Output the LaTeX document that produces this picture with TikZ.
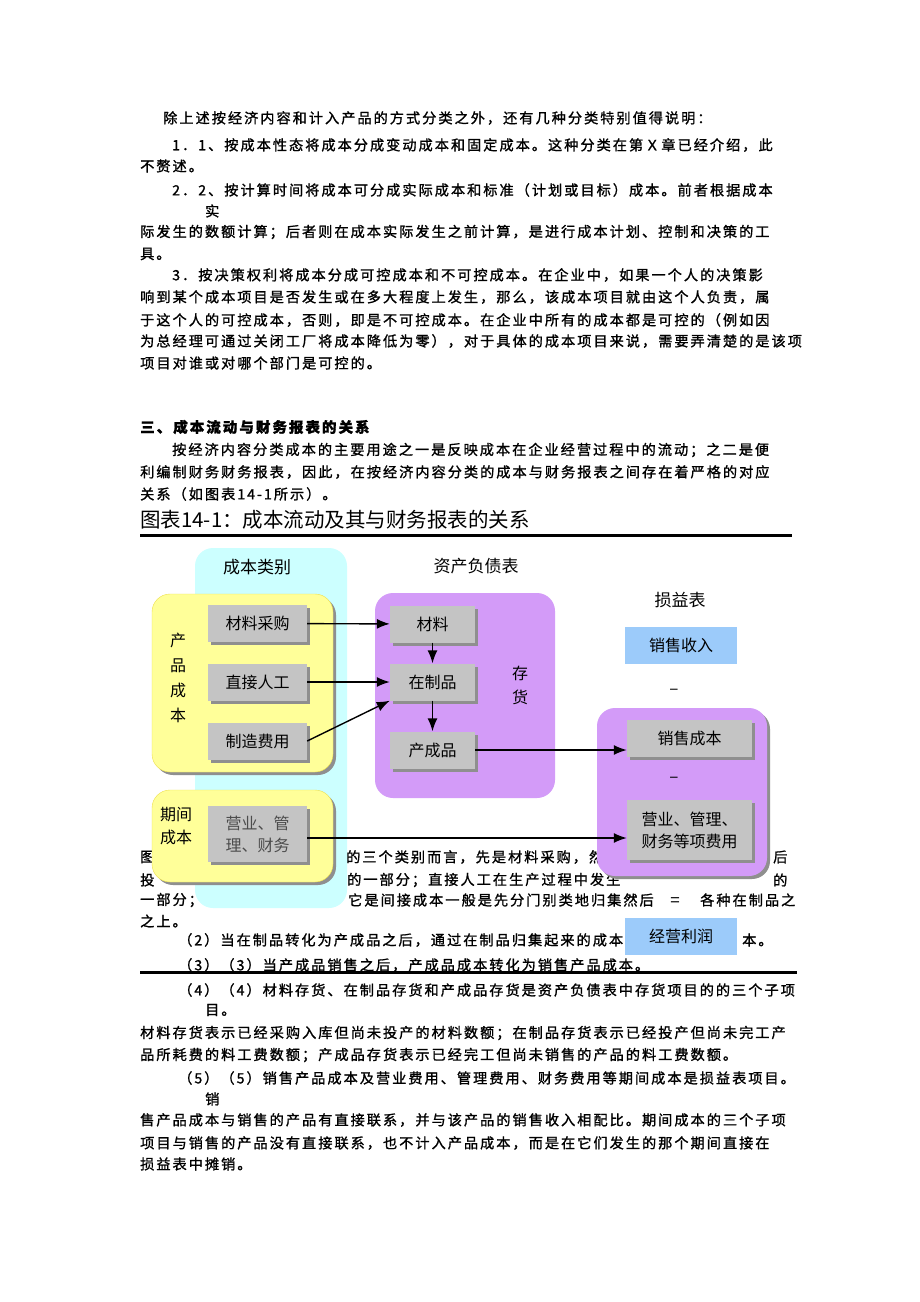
\documentclass[tikz,border=0pt]{standalone}
\usepackage{fontspec}
\setmainfont{Noto Sans CJK SC}
\newfontfamily\bodyfont[LetterSpace=14,FakeBold=1.2]{Noto Sans CJK SC}
\usetikzlibrary{shadows,arrows.meta}
\definecolor{cyanbg}{HTML}{CCFFFF}
\definecolor{yellowbg}{HTML}{FFFF99}
\definecolor{yellowline}{HTML}{EEE04A}
\definecolor{purplebg}{HTML}{D39BF8}
\definecolor{graybox}{HTML}{C4C4C4}
\definecolor{grayshadow}{HTML}{8F8F8F}
\definecolor{bluebox}{HTML}{9CCBFA}
\tikzset{
  line/.style={anchor=west, inner sep=0pt, font=\bodyfont\fontsize{14.2}{16}\selectfont},
  boxshadow/.style={general shadow={fill=grayshadow, shadow xshift=3pt, shadow yshift=-3pt}},
  itembox/.style={fill=graybox, boxshadow, inner sep=0pt, minimum width=99, minimum height=37,
    align=center, font=\fontsize{16}{22}\selectfont},
  invbox/.style={itembox, minimum width=85},
  plbox/.style={itembox, minimum width=125},
  bluecell/.style={fill=bluebox, inner sep=0pt, minimum width=112, minimum height=37,
    font=\fontsize{16}{22}\selectfont},
  panel/.style={rounded corners=18pt, inner sep=0pt},
  title/.style={inner sep=0pt, font=\fontsize{17}{20}\selectfont},
  vlabel/.style={inner sep=0pt, align=center},
  sign/.style={inner sep=0pt, font=\fontsize{17}{20}\selectfont},
  flow/.style={->, line width=1.4pt},
  >={Latex[length=13pt,width=10pt]}
}
\begin{document}
\begin{tikzpicture}[x=1pt,y=-1pt]
\useasboundingbox (0,0) rectangle (920,1302);
\fill[white] (0,0) rectangle (920,1302);

\node[line] (l1) at (163,118) {除上述按经济内容和计入产品的方式分类之外，还有几种分类特别值得说明：};
\node[line] (l2) at (172,145) {1．1、按成本性态将成本分成变动成本和固定成本。这种分类在第Ｘ章已经介绍，此};
\node[line] (l3) at (140,166) {不赘述。};
\node[line] (l4) at (172,190) {2．2、按计算时间将成本可分成实际成本和标准（计划或目标）成本。前者根据成本};
\node[line] (l5) at (205,211) {实};
\node[line] (l6) at (140,232) {际发生的数额计算；后者则在成本实际发生之前计算，是进行成本计划、控制和决策的工};
\node[line] (l7) at (140,254) {具。};
\node[line] (l8) at (172,275) {3．按决策权利将成本分成可控成本和不可控成本。在企业中，如果一个人的决策影};
\node[line] (l9) at (140,297) {响到某个成本项目是否发生或在多大程度上发生，那么，该成本项目就由这个人负责，属};
\node[line] (l10) at (140,320) {于这个人的可控成本，否则，即是不可控成本。在企业中所有的成本都是可控的（例如因};
\node[line] (l11) at (140,341) {为总经理可通过关闭工厂将成本降低为零），对于具体的成本项目来说，需要弄清楚的是该项};
\node[line] (l12) at (140,363) {项目对谁或对哪个部门是可控的。};
\node[line, font=\bodyfont\bfseries\fontsize{14.5}{16}\selectfont] (h3) at (140,427) {三、成本流动与财务报表的关系};
\node[line] (l13) at (172,450) {按经济内容分类成本的主要用途之一是反映成本在企业经营过程中的流动；之二是便};
\node[line] (l14) at (140,472) {利编制财务财务报表，因此，在按经济内容分类的成本与财务报表之间存在着严格的对应};
\node[line] (l15) at (140,494) {关系（如图表14-1所示）。};
\node[line, font=\fontsize{20.5}{22}\selectfont] (cap) at (140,520) {图表14-1：成本流动及其与财务报表的关系};
\draw[line width=3pt] (140,535) -- (792,535);

\node[line] (l16a) at (140,857) {图};
\node[line] (l16b) at (346,857) {的三个类别而言，先是材料采购，然};
\node[line] (l16c) at (773,857) {后};
\node[line] (l17a) at (140,880) {投};
\node[line] (l17b) at (347,880) {的一部分；直接人工在生产过程中发生};
\node[line] (l17c) at (773,880) {的};
\node[line] (l18a) at (140,900) {一部分；};
\node[line] (l18b) at (348,900) {它是间接成本一般是先分门别类地归集然后};
\node[line] (l18c) at (700,900) {各种在制品之};
\node[line] (l19) at (140,921) {之上。};
\node[line] (l20a) at (178,940) {（2）当在制品转化为产成品之后，通过在制品归集起来的成本也};
\node[line] (l20b) at (742,940) {本。};
\node[line] (l21) at (178,965) {（3）（3）当产成品销售之后，产成品成本转化为销售产品成本。};
\draw[line width=3pt] (140,972) -- (797,972);
\node[line] (l22) at (178,990) {（4）（4）材料存货、在制品存货和产成品存货是资产负债表中存货项目的的三个子项};
\node[line] (l23) at (205,1010) {目。};
\node[line] (l24) at (140,1033) {材料存货表示已经采购入库但尚未投产的材料数额；在制品存货表示已经投产但尚未完工产};
\node[line] (l25) at (140,1055) {品所耗费的料工费数额；产成品存货表示已经完工但尚未销售的产品的料工费数额。};
\node[line] (l26) at (178,1078) {（5）（5）销售产品成本及营业费用、管理费用、财务费用等期间成本是损益表项目。};
\node[line] (l27) at (205,1099) {销};
\node[line] (l28) at (140,1120) {售产品成本与销售的产品有直接联系，并与该产品的销售收入相配比。期间成本的三个子项};
\node[line] (l29) at (140,1143) {项目与销售的产品没有直接联系，也不计入产品成本，而是在它们发生的那个期间直接在};
\node[line] (l30) at (140,1164) {损益表中摊销。};

\node[panel, fill=cyanbg, minimum width=152, minimum height=360] (kinds) at (271,728) {};
\node[title] (kindstitle) at (257,567) {成本类别};
\node[title] (bstitle) at (476,566) {资产负债表};
\node[title] (pltitle) at (680,600) {损益表};

\node[panel, fill=yellowbg, draw=yellowline, boxshadow, minimum width=181, minimum height=178] (prodcost) at (242.5,683) {};
\node[panel, fill=yellowbg, draw=yellowline, boxshadow, minimum width=181, minimum height=92] (percost) at (242.5,836) {};
\node[panel, fill=purplebg, minimum width=180, minimum height=205] (stock) at (465,695.5) {};
\node[panel, fill=purplebg, boxshadow, minimum width=170, minimum height=168] (expense) at (682,792) {};

\node[vlabel, font=\fontsize{16}{25}\selectfont] (prodlabel) at (178,678) {产\\品\\成\\本};
\node[vlabel, font=\fontsize{16}{23}\selectfont] (perlabel) at (176,826) {期间\\成本};
\node[vlabel, font=\fontsize{16}{24}\selectfont] (stocklabel) at (520,685) {存\\货};

\node[itembox] (material) at (257.5,623.5) {材料采购};
\node[itembox] (labor) at (257.5,682) {直接人工};
\node[itembox] (overhead) at (257.5,741) {制造费用};
\node[itembox, minimum height=56, text=black!70] (opex) at (257.5,834) {营业、管\\理、财务};

\node[invbox] (raw) at (432.5,624) {材料};
\node[invbox] (wip) at (432.5,682) {在制品};
\node[invbox] (goods) at (432.5,750) {产成品};

\node[bluecell] (sales) at (681,645.5) {销售收入};
\node[sign] (minus1) at (674,692) {–};
\node[plbox] (cogs) at (689.5,738.5) {销售成本};
\node[sign] (minus2) at (674,780) {–};
\node[plbox, minimum height=60] (periodexp) at (689.5,830) {营业、管理、\\财务等项费用};
\node[sign] (equals) at (675,902) {=};
\node[bluecell] (profit) at (681,936.5) {经营利润};

\draw[flow] (material) -- (raw);
\draw[flow] (labor) -- (wip);
\draw[flow] (overhead.east) -- (wip.south west);
\draw[flow] (raw) -- (wip);
\draw[flow] (wip) -- (goods);
\draw[flow] (goods.east) -- (goods.east -| cogs.west);
\draw[flow] ([yshift=-4pt]opex.east) -- ([yshift=-4pt]opex.east -| periodexp.west);
\end{tikzpicture}
\end{document}
